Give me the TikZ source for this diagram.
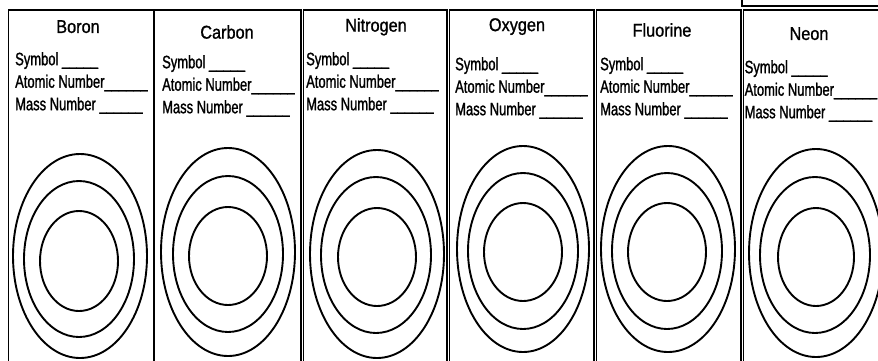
\documentclass[tikz,border=0pt]{standalone}
\usepackage{fontspec}
\setmainfont{Liberation Sans}
\newfontfamily\titlefont{Liberation Sans}[FakeStretch=0.88, FakeBold=1.1]
\newfontfamily\labelfont{Liberation Sans}[FakeStretch=0.72, FakeBold=1.2]
\usepackage{tikz}
\tikzset{
  colbox/.style   = {draw=black, line width=1.6pt},
  shell/.style    = {draw=black, line width=1.9pt},
  elemname/.style = {anchor=north, inner sep=0pt, text=black,
                     font=\titlefont\fontsize{18.5}{22}\selectfont},
  info/.style     = {anchor=north west, inner sep=0pt, align=left, text=black,
                     font=\labelfont\fontsize{18}{22.5}\selectfont},
}
\newcommand{\blanks}{\_\_\_\_\_}
\newcommand{\blankl}{\_\_\_\_\_\_}

\begin{document}
\begin{tikzpicture}[x=1pt, y=-1pt]
  \useasboundingbox (0,0) rectangle (878,360);
  \clip (0,0) rectangle (878,360);

  \draw[line width=1.4pt] (742,-2) -- (742,6) -- (890,6);

  \draw[colbox] (8.5,10) rectangle (154,380);
  \draw[colbox] (154,10) rectangle (301,380);
  \draw[colbox] (303.5,10) rectangle (447,380);
  \draw[colbox] (449.5,10) rectangle (594,380);
  \draw[colbox] (596.5,10) rectangle (741,380);
  \draw[colbox] (743.5,10) rectangle (900,380);

  \node[elemname] (boron)    at (78,20)  {Boron};
  \node[elemname] (carbon)   at (227,25) {Carbon};
  \node[elemname] (nitrogen) at (376,18) {Nitrogen};
  \node[elemname] (oxygen)   at (517,18) {Oxygen};
  \node[elemname] (fluorine) at (662,23) {Fluorine};
  \node[elemname] (neon)     at (809,27) {Neon};

  \node[info] (boroninfo)    at (15,52)    {Symbol \blanks\\Atomic Number\blankl\\Mass Number \blankl};
  \node[info] (carboninfo)   at (162,55)   {Symbol \blanks\\Atomic Number\blankl\\Mass Number \blankl};
  \node[info] (nitrogeninfo) at (306,52)   {Symbol \blanks\\Atomic Number\blankl\\Mass Number \blankl};
  \node[info] (oxygeninfo)   at (455,57)   {Symbol \blanks\\Atomic Number\blankl\\Mass Number \blankl};
  \node[info] (fluorineinfo) at (600,57)   {Symbol \blanks\\Atomic Number\blankl\\Mass Number \blankl};
  \node[info] (neoninfo)     at (744.5,60) {Symbol \blanks\\Atomic Number\blankl\\Mass Number \blankl};

  \draw[shell] (80,256)  ellipse [x radius=67pt, y radius=102pt];
  \draw[shell] (79,259)  ellipse [x radius=55pt, y radius=78pt];
  \draw[shell] (79,261)  ellipse [x radius=39pt, y radius=50pt];

  \draw[shell] (228,252) ellipse [x radius=67pt, y radius=104pt];
  \draw[shell] (228,254) ellipse [x radius=55pt, y radius=78pt];
  \draw[shell] (228,256) ellipse [x radius=39pt, y radius=49pt];

  \draw[shell] (377,254) ellipse [x radius=67pt, y radius=104pt];
  \draw[shell] (376,255) ellipse [x radius=55pt, y radius=78pt];
  \draw[shell] (377,257) ellipse [x radius=39pt, y radius=49pt];

  \draw[shell] (523,249) ellipse [x radius=66pt, y radius=103pt];
  \draw[shell] (523,251) ellipse [x radius=55pt, y radius=78pt];
  \draw[shell] (523,252) ellipse [x radius=39pt, y radius=49pt];

  \draw[shell] (668,249) ellipse [x radius=67pt, y radius=103pt];
  \draw[shell] (667,251) ellipse [x radius=55pt, y radius=78pt];
  \draw[shell] (667,252) ellipse [x radius=39pt, y radius=49pt];

  \draw[shell] (816,253) ellipse [x radius=67pt, y radius=104pt];
  \draw[shell] (815,255) ellipse [x radius=55pt, y radius=78pt];
  \draw[shell] (816,257) ellipse [x radius=38pt, y radius=49pt];
\end{tikzpicture}
\end{document}
